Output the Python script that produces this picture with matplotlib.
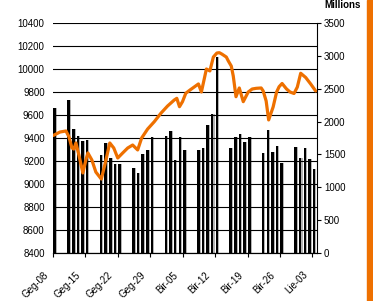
import numpy as np
import matplotlib
matplotlib.use("Agg")
import matplotlib.pyplot as plt
from matplotlib.patches import Rectangle
import matplotlib.transforms as mtransforms

plt.rcParams['font.family'] = ['Liberation Sans', 'DejaVu Sans']
plt.rcParams['font.size'] = 7

## datos: dias (0 = Geg-08), volumen en millones
bar_days = [0, 3, 4, 5, 6, 7, 10, 11, 12, 13, 14, 17, 18, 19, 20, 21,
            24, 25, 26, 27, 28, 31, 32, 33, 34, 35, 38, 39, 40, 41, 42,
            45, 46, 47, 48, 49, 52, 53, 54, 55, 56]
volume = [2212, 2324, 1892, 1776, 1710, 1725, 1492, 1679, 1441, 1355, 1355,
          1298, 1222, 1502, 1568, 1761, 1781, 1857, 1415, 1761, 1568,
          1568, 1603, 1943, 2120, 2988, 1593, 1761, 1806, 1694, 1761,
          1517, 1867, 1537, 1624, 1365, 1613, 1451, 1593, 1431, 1274]

## indice (linea naranja)
line_days = [0.06, 1.51, 2.80, 3.44, 4.09, 4.52, 4.95, 5.59, 6.45, 7.10, 7.53,
             8.39, 9.25, 10.43, 11.18, 12.26, 13.12, 13.98, 15.05, 16.13,
             17.20, 18.28, 19.14, 20.43, 21.87, 23.29, 24.73, 26.17, 26.73,
             27.31, 27.96, 28.67, 29.57, 31.40, 32.04, 33.12, 33.87, 34.62,
             35.38, 35.91, 36.45, 37.42, 37.85, 38.49, 38.92, 39.51, 40.22,
             41.08, 42.15, 43.01, 43.87, 44.95, 45.38, 46.02, 46.56, 47.53,
             48.28, 48.82, 49.46, 50.43, 51.18, 52.04, 52.75, 53.48, 54.56,
             55.63, 56.71]
index_vals = [9422, 9452, 9461, 9411, 9313, 9304, 9357, 9252, 9096, 9209, 9270,
              9209, 9104, 9043, 9165, 9357, 9313, 9226, 9270, 9313,
              9339, 9296, 9400, 9478, 9542, 9615, 9678, 9730, 9745,
              9672, 9716, 9789, 9817, 9870, 9800, 10000, 9983, 10104,
              10139, 10142, 10130, 10104, 10070, 10026, 9939, 9759, 9835,
              9716, 9800, 9826, 9832, 9835, 9809, 9722, 9557, 9670,
              9800, 9846, 9874, 9826, 9800, 9787, 9843, 9963, 9926,
              9870, 9809]

tick_days = [0, 7, 14, 21, 28, 35, 42, 49, 56]
tick_labels = ['Geg-08', 'Geg-15', 'Geg-22', 'Geg-29', 'Bir-05', 'Bir-12',
               'Bir-19', 'Bir-26', 'Lie-03']

orange = '#EE7000'

fig = plt.figure(figsize=(3.73, 3.01), dpi=100)
ax = fig.add_axes([53/373, 48/301, 264/373, 230/301])
ax2 = ax.twinx()

## barras (eje derecho)
x = np.array(bar_days) + 0.1
ax2.bar(x, volume, width=0.78, align='edge', color='#b4b4b4', zorder=1)
ax2.bar(x, volume, width=0.55, align='edge', color='black', zorder=2)
ax2.set_ylim(0, 3500)
ax2.set_yticks(np.arange(0, 3501, 500))
ax2.tick_params(axis='y', direction='out', length=3, width=0.8, pad=2)

## linea (eje izquierdo) encima
ax.set_zorder(ax2.get_zorder() + 1)
ax.patch.set_visible(False)
ax.plot(line_days, index_vals, color=orange, lw=2.3, solid_joinstyle='round',
        solid_capstyle='round', zorder=3)
ax.set_ylim(8400, 10400)
ax.set_yticks(np.arange(8400, 10401, 200))
ax.grid(axis='y', color='black', lw=0.8)
ax.set_axisbelow(True)
ax.tick_params(axis='y', length=0, pad=6)

ax.set_xlim(0, 57)
ax.set_xticks(tick_days)
ax.set_xticklabels(tick_labels, rotation=45, ha='right')
ax.tick_params(axis='x', direction='out', length=3, width=0.8, pad=9)
off = mtransforms.ScaledTranslation(-3/100, 0, fig.dpi_scale_trans)
for lab in ax.get_xticklabels():
    lab.set_transform(lab.get_transform() + off)

for a in (ax, ax2):
    a.spines['top'].set_visible(False)
    a.spines['left'].set_visible(False)
ax.spines['right'].set_visible(False)
ax2.spines['right'].set_linewidth(0.8)
ax2.spines['bottom'].set_linewidth(0.8)
ax.spines['bottom'].set_linewidth(0.8)

fig.text(343/373, 1 - 8/301, 'Millions', ha='center', va='baseline',
         fontsize=7, weight='bold')

## franja naranja a la derecha
fig.patches.append(Rectangle((367/373, 0), 6/373, 1, transform=fig.transFigure,
                             color=orange, zorder=0))

fig.savefig('out.png', dpi=100)
